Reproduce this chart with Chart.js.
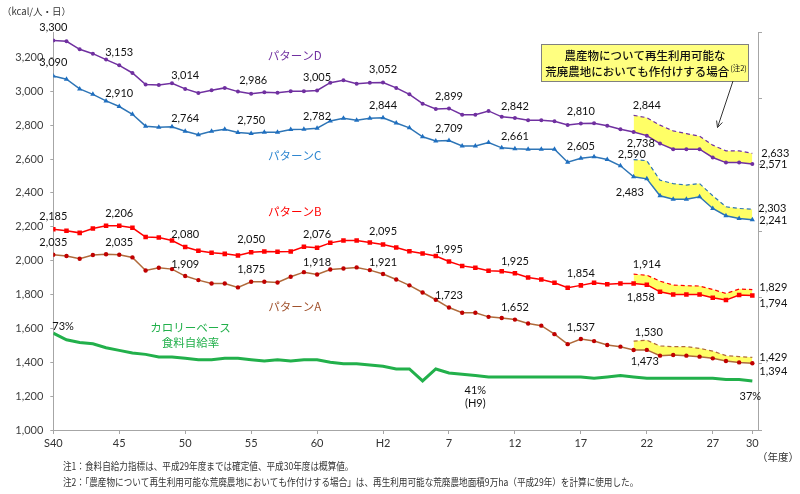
<!DOCTYPE html>
<html>
<head>
<meta charset="utf-8">
<script src="https://cdn.jsdelivr.net/npm/chart.js@4.4.0/dist/chart.umd.min.js"></script>
<style>
  body { margin: 0; background: #fff; }
  #wrap { width: 800px; height: 494px; position: relative; }
</style>
</head>
<body>
<div id="wrap"><canvas id="myChart"></canvas></div>
<script>
// fiscal years S40 (1965) .. H30 (2018)
const years = [1965,1966,1967,1968,1969,1970,1971,1972,1973,1974,
  1975,1976,1977,1978,1979,1980,1981,1982,1983,1984,
  1985,1986,1987,1988,1989,1990,1991,1992,1993,1994,
  1995,1996,1997,1998,1999,2000,2001,2002,2003,2004,
  2005,2006,2007,2008,2009,2010,2011,2012,2013,2014,
  2015,2016,2017,2018];
const tickYears = [1965,1970,1975,1980,1985,1990,1995,2000,2005,2010,2015,2018];
const tickLabels = ['S40','45','50','55','60','H2','7','12','17','22','27','30'];

// kcal / person / day
const patternD = [3300,3295,3248,3222,3187,3153,3108,3040,3037,3047,
  3014,2990,3006,3020,2998,2986,2994,2992,3000,3000,
  3005,3051,3065,3045,3051,3052,3020,2982,2927,2896,
  2899,2862,2862,2884,2849,2842,2829,2829,2823,2801,
  2810,2811,2796,2776,2760,2738,2691,2658,2658,2658,
  2609,2579,2579,2571];
const patternC = [3090,3071,3014,2982,2943,2910,2864,2794,2788,2790,
  2764,2743,2764,2776,2756,2750,2758,2758,2774,2776,
  2782,2825,2841,2829,2841,2844,2813,2784,2731,2707,
  2709,2677,2677,2697,2666,2661,2658,2658,2658,2581,
  2605,2613,2597,2560,2495,2483,2383,2363,2363,2377,
  2308,2265,2249,2241];
const patternB = [2185,2176,2164,2190,2206,2206,2194,2139,2137,2119,
  2080,2058,2046,2040,2031,2050,2054,2052,2054,2082,
  2076,2105,2119,2119,2107,2095,2078,2056,2042,2027,
  1995,1969,1958,1940,1938,1925,1901,1889,1869,1840,
  1854,1869,1861,1865,1865,1858,1816,1800,1800,1800,
  1781,1767,1797,1794];
const patternA = [2035,2027,2011,2033,2038,2035,2019,1942,1958,1950,
  1909,1885,1865,1865,1842,1875,1875,1871,1905,1932,
  1918,1948,1954,1960,1944,1921,1889,1854,1812,1769,
  1723,1692,1692,1668,1661,1652,1629,1616,1566,1507,
  1537,1525,1502,1492,1472,1473,1439,1443,1439,1433,
  1423,1407,1399,1394];

// with re-usable abandoned farmland (H21 .. H30)
const bandYears = [2009,2010,2011,2012,2013,2014,2015,2016,2017,2018];
const dFarmland = [2858,2844,2800,2766,2750,2735,2682,2648,2648,2633];
const cFarmland = [2597,2590,2475,2455,2446,2455,2383,2318,2308,2303];
const bFarmland = [1920,1914,1879,1856,1852,1850,1830,1806,1832,1829];
const aFarmland = [1525,1530,1496,1492,1492,1482,1466,1439,1433,1429];

// calorie-based food self-sufficiency ratio (%)
const selfSufficiency = [73,68,66,65,62,60,58,57,55,55,
  54,53,53,54,54,53,52,53,52,53,
  53,51,50,50,49,48,46,46,37,46,
  43,42,41,40,40,40,40,40,40,40,
  40,39,40,41,40,39,39,39,39,39,
  39,38,38,37];

const pts = (xs, vs) => xs.map((x, i) => ({ x: x, y: vs[i] }));
const bandBase = (vs) => bandYears.map(yr => ({ x: yr, y: vs[years.indexOf(yr)] }));

const series = {
  D: { xs: years, vs: patternD }, C: { xs: years, vs: patternC },
  B: { xs: years, vs: patternB }, A: { xs: years, vs: patternA },
  Dw: { xs: bandYears, vs: dFarmland }, Cw: { xs: bandYears, vs: cFarmland },
  Bw: { xs: bandYears, vs: bFarmland }, Aw: { xs: bandYears, vs: aFarmland }
};

// [series, year, dx, dy, align]
const valueLabels = [
  ['D',1965,0,-13,'center'],['D',1970,0,-13,'center'],['D',1975,0,-13,'center'],['D',1980,2,-13,'center'],
  ['D',1985,0,-13,'center'],['D',1990,0,-13,'center'],['D',1995,0,-12,'center'],['D',2000,0,-12,'center'],
  ['D',2005,0,-12,'center'],['Dw',2010,0,-12,'center'],['D',2010,-6,8,'center'],
  ['Dw',2018,9,0,'left'],['D',2018,7,1,'left'],
  ['C',1965,0,-14,'center'],['C',1970,0,-13,'center'],['C',1975,0,-13,'center'],['C',1980,0,-13,'center'],
  ['C',1985,0,-12,'center'],['C',1990,0,-12,'center'],['C',1995,0,-12,'center'],['C',2000,0,-12,'center'],
  ['C',2005,0,-12,'center'],['Cw',2010,-1,-6,'right'],['C',2010,-3,14,'right'],
  ['Cw',2018,6,-1,'left'],['C',2018,7,1,'left'],
  ['B',1965,0,-13,'center'],['B',1970,0,-12,'center'],['B',1975,0,-13,'center'],['B',1980,0,-13,'center'],
  ['B',1985,0,-13,'center'],['B',1990,0,-13,'center'],['B',1995,0,-12,'center'],['B',2000,0,-12,'center'],
  ['B',2005,0,-12,'center'],['Bw',2010,0,-11,'center'],['B',2010,-6,13,'center'],
  ['Bw',2018,7,-2,'left'],['B',2018,7,8,'left'],
  ['A',1965,0,-12,'center'],['A',1970,0,-12,'center'],['A',1975,0,-12,'center'],['A',1980,0,-12,'center'],
  ['A',1985,0,-12,'center'],['A',1990,0,-12,'center'],['A',1995,0,-12,'center'],['A',2000,0,-12,'center'],
  ['A',2005,0,-12,'center'],['Aw',2010,2,-8,'center'],['A',2010,-2,12,'center'],
  ['Aw',2018,7,0,'left'],['A',2018,7,8,'left']
];

// [text, year, value(kcal), color]
const seriesNames = [
  ['パターンD', 1983.3, 3212, '#7030A0'],
  ['パターンC', 1983.3, 2622, '#2E86D0'],
  ['パターンB', 1983.3, 2287, '#FF0000'],
  ['パターンA', 1983.3, 1726, '#A0522D']
];

const JP = '"Noto Sans CJK JP", sans-serif';
Chart.defaults.font.family = 'Lato, "Noto Sans CJK JP", sans-serif';
Chart.defaults.font.size = 11;
Chart.defaults.color = '#333';

const overlay = {
  id: 'overlay',
  afterDatasetsDraw(chart) {
    const ctx = chart.ctx;
    const x = chart.scales.x, y = chart.scales.y, y2 = chart.scales.y2;
    ctx.save();
    ctx.textBaseline = 'middle';

    // numeric labels
    ctx.fillStyle = '#111';
    ctx.font = '11px Lato';
    valueLabels.forEach(([key, yr, dx, dy, align]) => {
      const s = series[key];
      const v = s.vs[s.xs.indexOf(yr)];
      ctx.textAlign = align;
      ctx.fillText(v.toLocaleString('en-US'), x.getPixelForValue(yr) + dx, y.getPixelForValue(v) + dy);
    });

    // percent labels
    const pct = (yr) => selfSufficiency[years.indexOf(yr)];
    ctx.textAlign = 'left';
    ctx.fillText(pct(1965) + '%', x.getPixelForValue(1965) - 1, y2.getPixelForValue(pct(1965)) - 7);
    ctx.textAlign = 'center';
    ctx.fillText(pct(1997) + '%', x.getPixelForValue(1997), y2.getPixelForValue(pct(1997)) + 15);
    ctx.fillText('(H9)', x.getPixelForValue(1997), y2.getPixelForValue(pct(1997)) + 28);
    ctx.fillText(pct(2018) + '%', x.getPixelForValue(2018) - 2, y2.getPixelForValue(pct(2018)) + 16);

    // series names
    ctx.font = '11.5px ' + JP;
    seriesNames.forEach(([t, yr, v, c]) => {
      ctx.fillStyle = c;
      ctx.fillText(t, x.getPixelForValue(yr), y.getPixelForValue(v));
    });
    ctx.fillStyle = '#22B04B';
    ctx.fillText('カロリーベース', x.getPixelForValue(1975.4), y2.getPixelForValue(76.8));
    ctx.fillText('食料自給率', x.getPixelForValue(1975.4), y2.getPixelForValue(65.5));

    // callout box
    ctx.fillStyle = '#FFFF80';
    ctx.strokeStyle = '#808080';
    ctx.lineWidth = 1;
    ctx.fillRect(541, 44, 207, 37);
    ctx.strokeRect(541.5, 44.5, 207, 37);
    ctx.fillStyle = '#111';
    ctx.font = '500 11.5px ' + JP;
    ctx.textAlign = 'center';
    ctx.fillText('農産物について再生利用可能な', 645, 56);
    const l2 = '荒廃農地においても作付けする場合';
    const w2 = ctx.measureText(l2).width;
    ctx.font = '7.5px ' + JP;
    const ws = ctx.measureText('(注2)').width;
    const start = 645.5 - (w2 + ws) / 2;
    ctx.textAlign = 'left';
    ctx.fillText('(注2)', start + w2 + 1, 68);
    ctx.font = '500 11.5px ' + JP;
    ctx.fillText(l2, start, 71.5);

    // arrow
    ctx.strokeStyle = '#333';
    ctx.beginPath();
    ctx.moveTo(733, 81);
    ctx.lineTo(717.5, 127.5);
    ctx.stroke();
    const ang = Math.atan2(127.5 - 81, 717.5 - 733);
    ctx.beginPath();
    ctx.moveTo(717.5 - 7 * Math.cos(ang - 0.45), 127.5 - 7 * Math.sin(ang - 0.45));
    ctx.lineTo(717.5, 127.5);
    ctx.lineTo(717.5 - 7 * Math.cos(ang + 0.45), 127.5 - 7 * Math.sin(ang + 0.45));
    ctx.stroke();

    // axis titles
    ctx.fillStyle = '#333';
    ctx.font = '9.5px ' + JP;
    ctx.fillText('（kcal/人・日）', 2, 11);
    ctx.font = '10.5px ' + JP;
    ctx.fillText('（年度）', 757, 457);

    // footnotes
    ctx.font = '10px ' + JP;
    ctx.translate(63, 0);
    ctx.scale(0.86, 1);
    ctx.fillText('注1：食料自給力指標は、平成29年度までは確定値、平成30年度は概算値。', 0, 466);
    ctx.fillText('注2：「農産物について再生利用可能な荒廃農地においても作付けする場合」は、再生利用可能な荒廃農地面積9万ha（平成29年）を計算に使用した。', 0, 482);
    ctx.restore();
  }
};

const solid = (vs, color, pointColor, style, r) => ({
  data: pts(years, vs), borderColor: color, borderWidth: 1.5,
  pointStyle: style, pointRadius: r, pointBackgroundColor: pointColor,
  pointBorderColor: pointColor, pointBorderWidth: 0, yAxisID: 'y'
});
const dashed = (vs, color, target) => ({
  data: pts(bandYears, vs), borderColor: color, borderWidth: 1.2, borderDash: [4, 3],
  pointRadius: 0, fill: { target: target }, backgroundColor: '#FFFF66', yAxisID: 'y'
});
const base = (vs) => ({ data: bandBase(vs), borderWidth: 0, pointRadius: 0, borderColor: 'rgba(0,0,0,0)', yAxisID: 'y' });

const axisGrid = { drawOnChartArea: false, drawTicks: true, tickLength: 4, color: '#A6A6A6' };

new Chart('myChart', {
  type: 'line',
  data: {
    datasets: [
      solid(patternD, '#7030A0', '#7030A0', 'circle', 2),
      solid(patternC, '#2E75B6', '#1F6FC0', 'triangle', 3),
      solid(patternB, '#FF0000', '#FF0000', 'rect', 3.2),
      solid(patternA, '#B06A3B', '#C00000', 'circle', 2.2),
      { data: pts(years, selfSufficiency), borderColor: '#22B04B', borderWidth: 3, pointRadius: 0, yAxisID: 'y2' },
      dashed(dFarmland, '#7030A0', 9),
      dashed(cFarmland, '#2E75B6', 10),
      dashed(bFarmland, '#FF0000', 11),
      dashed(aFarmland, '#B06A3B', 12),
      base(patternD), base(patternC), base(patternB), base(patternA)
    ]
  },
  options: {
    responsive: true,
    maintainAspectRatio: false,
    animation: false,
    layout: { padding: { top: 32, left: 0, right: 0, bottom: 0 } },
    elements: { line: { tension: 0, fill: false } },
    plugins: { legend: { display: false }, tooltip: { enabled: false } },
    scales: {
      x: {
        type: 'linear', min: 1965, max: 2018.43,
        afterBuildTicks: (s) => { s.ticks = tickYears.map(v => ({ value: v })); },
        afterFit: (s) => { s.height = 64; },
        ticks: { autoSkip: false, maxRotation: 0, padding: 3, color: '#333',
          callback: (v) => tickLabels[tickYears.indexOf(v)] },
        grid: axisGrid,
        border: { color: '#A6A6A6' }
      },
      y: {
        position: 'left', min: 1000, max: 3350,
        afterBuildTicks: (s) => { s.ticks = s.ticks.filter(t => t.value <= 3200); },
        afterFit: (s) => { s.width = 53.3; },
        ticks: { stepSize: 200, padding: 7, color: '#404040',
          callback: (v) => v.toLocaleString('en-US') },
        grid: { drawOnChartArea: false, drawTicks: true, tickLength: 3, color: '#A6A6A6' },
        border: { color: '#A6A6A6' }
      },
      y2: {
        position: 'right', min: 0, max: 300,
        afterFit: (s) => { s.width = 42; },
        ticks: { stepSize: 50, display: false },
        grid: axisGrid,
        border: { color: '#A6A6A6' }
      }
    }
  },
  plugins: [overlay]
});
</script>
</body>
</html>
